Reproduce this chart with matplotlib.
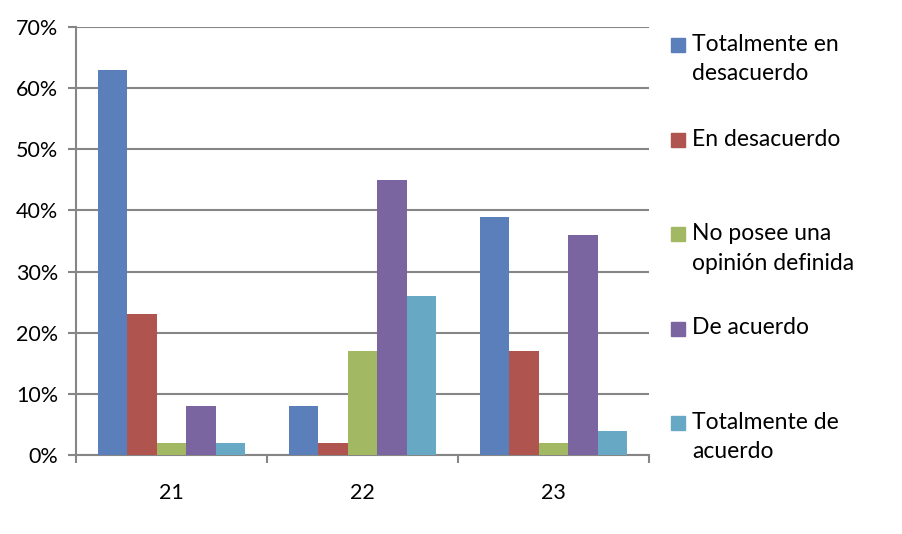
import matplotlib.pyplot as plt
import matplotlib.patches as mpatches
import numpy as np

categories = ['21', '22', '23']
series = ['Totalmente en\ndesacuerdo', 'En desacuerdo',
          'No posee una\nopinión definida', 'De acuerdo',
          'Totalmente de\nacuerdo']
values = [
    [63, 8, 39],   # Totalmente en desacuerdo
    [23, 2, 17],   # En desacuerdo
    [2, 17, 2],    # No posee una opinión definida
    [8, 45, 36],   # De acuerdo
    [2, 26, 4],    # Totalmente de acuerdo
]
colors = ['#5B7FBA', '#B0544F', '#A2B863', '#7B65A0', '#67A9C5']
yticks = [0, 10, 20, 30, 40, 50, 60, 70]

plt.rcParams['font.family'] = ['Lato', 'DejaVu Sans']

fig = plt.figure(figsize=(9.02, 5.34), dpi=100)
ax = fig.add_axes([76 / 902, 79 / 534, 573 / 902, 428 / 534])

x = np.arange(len(categories))
width = 0.154
for i, vals in enumerate(values):
    ax.bar(x + (i - 2) * width, vals, width, color=colors[i], zorder=3)

ax.set_xlim(-0.5, 2.5)
ax.set_ylim(0, 70)
ax.set_yticks(yticks)
ax.set_yticklabels([str(t) + '%' for t in yticks], fontsize=15.5)
ax.yaxis.grid(True, color='#868686', linewidth=1.5, zorder=0)

ax.set_xticks(x)
ax.set_xticklabels(categories, fontsize=15.5)
ax.set_xticks([-0.5, 0.5, 1.5, 2.5], minor=True)
ax.tick_params(axis='x', which='major', length=0, pad=20)
ax.tick_params(axis='x', which='minor', length=6, width=1.5, color='#868686')
ax.tick_params(axis='y', length=6, width=1.5, color='#868686', pad=7)

for s in ['top', 'right']:
    ax.spines[s].set_visible(False)
for s in ['left', 'bottom']:
    ax.spines[s].set_color('#868686')
    ax.spines[s].set_linewidth(1.5)

# legend on the right, square aligned to first line of each label
for i, lab in enumerate(series):
    yc = 45 + i * 94.5
    fig.add_artist(mpatches.Rectangle((671 / 902, 1 - (yc + 7) / 534),
                                      14 / 902, 14 / 534,
                                      color=colors[i],
                                      transform=fig.transFigure))
    fig.text(692 / 902, 1 - (yc - 11) / 534, lab, fontsize=16.5,
             va='top', ha='left', linespacing=1.5)

fig.savefig('out.png', dpi=100)
